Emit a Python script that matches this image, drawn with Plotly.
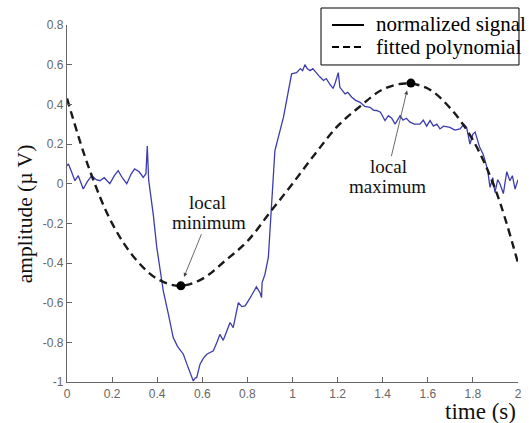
import plotly.graph_objects as go

# ---- data ----
sig_t = [0.0, 0.006, 0.02, 0.035, 0.05, 0.072, 0.09, 0.11, 0.13, 0.146, 0.165, 0.19, 0.21, 0.227,
         0.245, 0.265, 0.285, 0.30, 0.32, 0.338, 0.35, 0.356, 0.362, 0.383, 0.398, 0.41, 0.427, 0.45,
         0.471, 0.49, 0.516, 0.535, 0.553, 0.56, 0.568, 0.575, 0.59, 0.605, 0.62, 0.649, 0.665, 0.678,
         0.693, 0.71, 0.723, 0.737, 0.75, 0.76, 0.775, 0.79, 0.81, 0.825, 0.84, 0.856, 0.863, 0.865,
         0.878, 0.893, 0.90, 0.905, 0.922, 0.96, 0.981, 0.996, 1.018, 1.035, 1.045, 1.055, 1.065,
         1.078, 1.09, 1.107, 1.12, 1.137, 1.15, 1.166, 1.18, 1.19, 1.203, 1.21, 1.22, 1.233, 1.245,
         1.263, 1.28, 1.30, 1.32, 1.344, 1.36, 1.373, 1.39, 1.41, 1.425, 1.44, 1.455, 1.477, 1.49,
         1.505, 1.521, 1.54, 1.565, 1.58, 1.595, 1.61, 1.625, 1.64, 1.654, 1.67, 1.698, 1.72, 1.743,
         1.76, 1.772, 1.787, 1.80, 1.81, 1.83, 1.845, 1.854, 1.865, 1.876, 1.888, 1.898, 1.91, 1.92,
         1.935, 1.95, 1.964, 1.975, 1.987, 2.0]
sig_v = [0.09, 0.10, 0.06, 0.015, 0.04, -0.027, 0.01, 0.04, 0.02, 0.015, 0.03, 0.0, 0.04, 0.066,
         0.03, 0.0, 0.05, 0.074, 0.06, 0.032, 0.05, 0.19, 0.02, -0.16, -0.32, -0.42, -0.54, -0.66,
         -0.776, -0.82, -0.86, -0.92, -0.978, -0.995, -0.98, -0.978, -0.91, -0.88, -0.86, -0.843, -0.80, -0.76,
         -0.79, -0.74, -0.70, -0.726, -0.65, -0.60, -0.62, -0.616, -0.58, -0.55, -0.52, -0.55, -0.574, -0.50,
         -0.456, -0.37, -0.24, -0.145, 0.167, 0.335, 0.47, 0.554, 0.56, 0.58, 0.57, 0.60, 0.58,
         0.57, 0.58, 0.554, 0.54, 0.52, 0.53, 0.50, 0.48, 0.51, 0.56, 0.486, 0.47, 0.453, 0.46,
         0.436, 0.42, 0.41, 0.39, 0.385, 0.37, 0.369, 0.36, 0.318, 0.343, 0.33, 0.30, 0.343, 0.32,
         0.33, 0.31, 0.30, 0.30, 0.32, 0.29, 0.318, 0.29, 0.30, 0.276, 0.29, 0.284, 0.27, 0.276,
         0.30, 0.284, 0.20, 0.25, 0.26, 0.183, 0.15, 0.116, 0.07, -0.019, 0.03, -0.044, 0.02, 0.0,
         -0.05, 0.06, 0.015, 0.04, -0.027, 0.02]

poly_t = [0.0, 0.1, 0.2, 0.3, 0.4, 0.5, 0.6, 0.7, 0.8, 0.9, 1.0, 1.1, 1.2, 1.3, 1.4, 1.5, 1.6,
          1.7, 1.8, 1.9, 2.0]
poly_v = [0.43, 0.07, -0.20, -0.375, -0.48, -0.515, -0.48, -0.39, -0.29, -0.145, 0.0, 0.15, 0.29,
          0.39, 0.475, 0.505, 0.48, 0.38, 0.22, -0.03, -0.40]

ext_t = [0.505, 1.525]
ext_v = [-0.515, 0.507]

x_ticks = [0, 0.2, 0.4, 0.6, 0.8, 1, 1.2, 1.4, 1.6, 1.8, 2]
y_ticks = [0.8, 0.6, 0.4, 0.2, 0, -0.2, -0.4, -0.6, -0.8, -1]

legend_labels = ["normalized signal", "fitted polynomial"]

SERIF = "Liberation Serif, Times New Roman, serif"

fig = go.Figure()
fig.add_trace(go.Scatter(x=sig_t, y=sig_v, mode="lines",
                         line=dict(color="#3c3cae", width=1.3), showlegend=False))
fig.add_trace(go.Scatter(x=poly_t, y=poly_v, mode="lines", line_shape="spline",
                         line=dict(color="#1a1a1a", width=2.4, dash="8px,5px"), showlegend=False))
fig.add_trace(go.Scatter(x=ext_t, y=ext_v, mode="markers",
                         marker=dict(color="black", size=9), showlegend=False))

axis_common = dict(showgrid=False, zeroline=False, showline=True, linecolor="#666",
                   linewidth=1.2, ticks="inside", ticklen=5, tickcolor="#666",
                   tickfont=dict(family="Liberation Sans, Arial, sans-serif", size=12, color="#666"))

# manual legend box (paper coordinates)
shapes = [
    dict(type="rect", xref="paper", yref="paper", x0=0.5632, x1=1.0022, y0=0.888, y1=1.0476,
         line=dict(color="black", width=1), fillcolor="white", layer="above"),
    dict(type="line", xref="paper", yref="paper", x0=0.5876, x1=0.6585, y0=1.0, y1=1.0,
         line=dict(color="black", width=2), layer="above"),
    dict(type="line", xref="paper", yref="paper", x0=0.5876, x1=0.6585, y0=0.9384, y1=0.9384,
         line=dict(color="black", width=2, dash="7px,4px"), layer="above"),
]

annotations = [
    dict(x=0.6807, y=1.002, xref="paper", yref="paper", xanchor="left", yanchor="middle",
         text=legend_labels[0], showarrow=False, font=dict(family=SERIF, size=21, color="black")),
    dict(x=0.6807, y=0.9384, xref="paper", yref="paper", xanchor="left", yanchor="middle",
         text=legend_labels[1], showarrow=False, font=dict(family=SERIF, size=21, color="black")),
    dict(x=0.519, y=-0.47, ax=0.599, ay=-0.247, xref="x", yref="y", axref="x", ayref="y",
         text="", showarrow=True, arrowhead=2, arrowsize=1, arrowwidth=0.8, arrowcolor="#444"),
    dict(x=1.508, y=0.47, ax=1.437, ay=0.131, xref="x", yref="y", axref="x", ayref="y",
         text="", showarrow=True, arrowhead=2, arrowsize=1, arrowwidth=0.8, arrowcolor="#444"),
    dict(x=0.621, y=-0.097, xref="x", yref="y", text="local", showarrow=False,
         font=dict(family=SERIF, size=19, color="#111")),
    dict(x=0.63, y=-0.198, xref="x", yref="y", text="minimum", showarrow=False,
         font=dict(family=SERIF, size=19, color="#111")),
    dict(x=1.427, y=0.089, xref="x", yref="y", text="local", showarrow=False,
         font=dict(family=SERIF, size=19, color="#111")),
    dict(x=1.423, y=-0.015, xref="x", yref="y", text="maximum", showarrow=False,
         font=dict(family=SERIF, size=19, color="#111")),
    dict(x=-0.093, y=0.47, xref="paper", yref="paper", xanchor="center", yanchor="middle",
         text="amplitude (\u00b5 V)", textangle=-90, showarrow=False,
         font=dict(family=SERIF, size=21.5, color="#111")),
    dict(x=1.0, y=-0.084, xref="paper", yref="paper", xanchor="right", yanchor="middle",
         text="time (s)", showarrow=False, font=dict(family=SERIF, size=23, color="#111")),
]

fig.update_layout(
    width=529, height=423,
    margin=dict(l=67, r=11, t=25, b=41, autoexpand=False),
    plot_bgcolor="white", paper_bgcolor="white",
    showlegend=False,
    xaxis=dict(range=[0, 2], tickvals=x_ticks, ticktext=[f"{v:g}" for v in x_ticks], **axis_common),
    yaxis=dict(range=[-1, 0.8], tickvals=y_ticks, ticktext=[f"{v:g}" for v in y_ticks], **axis_common),
    shapes=shapes,
    annotations=annotations,
)

fig.write_html("out.html", config={"displayModeBar": False},
               post_script="document.body.style.margin='0';")
